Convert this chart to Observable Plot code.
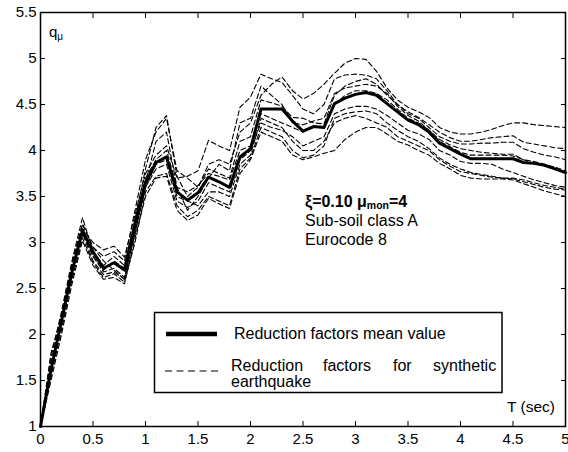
<!DOCTYPE html>
<html><head><meta charset="utf-8">
<script src="https://cdn.jsdelivr.net/npm/d3@7"></script>
<script src="https://cdn.jsdelivr.net/npm/@observablehq/plot@0.6"></script>
<style>body{margin:0;background:#fff} svg{display:block}</style>
</head><body><div id="chart"></div>
<script>
const periods = [0.0,0.1,0.2,0.3,0.4,0.5,0.6,0.7,0.8,0.9,1.0,1.1,1.2,1.3,1.4,1.5,1.6,1.7,1.8,1.9,2.0,2.1,2.2,2.3,2.4,2.5,2.6,2.7,2.8,2.9,3.0,3.1,3.2,3.3,3.4,3.5,3.6,3.7,3.8,3.9,4.0,4.1,4.2,4.3,4.4,4.5,4.6,4.7,4.8,4.9,5.0];
const meanValues = [1.00,1.62,2.15,2.68,3.13,2.90,2.72,2.78,2.70,3.20,3.65,3.87,3.93,3.55,3.46,3.54,3.71,3.66,3.60,3.93,4.02,4.45,4.45,4.45,4.32,4.21,4.26,4.25,4.51,4.57,4.61,4.63,4.60,4.51,4.42,4.33,4.28,4.20,4.08,4.02,3.96,3.91,3.91,3.91,3.91,3.91,3.87,3.86,3.84,3.80,3.76];
const eq1 = [1.00,1.70,2.20,2.75,3.20,2.95,2.85,2.90,2.80,3.35,3.90,4.20,4.35,3.78,3.70,3.60,3.85,3.90,3.85,4.20,4.30,4.60,4.72,4.80,4.65,4.56,4.62,4.72,4.84,4.95,5.00,4.99,4.86,4.68,4.55,4.47,4.42,4.36,4.25,4.20,4.18,4.18,4.20,4.23,4.27,4.30,4.30,4.28,4.27,4.26,4.25];
const eq2 = [1.00,1.60,2.15,2.70,3.15,3.00,2.92,2.96,2.84,3.30,3.75,3.95,4.05,3.70,3.72,3.78,4.11,4.05,4.00,4.47,4.58,4.83,4.78,4.74,4.60,4.45,4.40,4.50,4.78,4.82,4.83,4.82,4.78,4.65,4.50,4.42,4.36,4.28,4.20,4.14,4.10,4.10,4.12,4.14,4.15,4.16,4.09,4.07,4.05,4.03,4.02];
const eq3 = [1.00,1.75,2.25,2.80,3.27,2.90,2.75,2.85,2.75,3.25,3.80,4.25,4.38,3.72,3.50,3.60,3.80,3.75,3.70,4.10,4.15,4.55,4.52,4.48,4.36,4.35,4.30,4.29,4.60,4.70,4.75,4.78,4.72,4.60,4.50,4.40,4.35,4.25,4.15,4.10,4.07,4.07,4.08,4.08,4.09,4.09,4.02,3.98,3.95,3.93,3.90];
const eq4 = [1.00,1.65,2.15,2.72,3.15,2.85,2.70,2.80,2.72,3.20,3.70,3.90,4.00,3.60,3.55,3.62,3.75,3.72,3.68,4.00,4.05,4.40,4.35,4.30,4.25,4.20,4.25,4.27,4.50,4.60,4.65,4.65,4.62,4.55,4.45,4.35,4.30,4.22,4.10,4.04,3.98,3.95,3.95,3.95,3.95,3.94,3.90,3.88,3.85,3.82,3.78];
const eq5 = [1.00,1.60,2.10,2.65,3.10,2.85,2.68,2.72,2.62,3.10,3.60,3.80,3.85,3.45,3.38,3.45,3.65,3.60,3.55,3.90,4.00,4.30,4.25,4.22,4.15,4.05,4.10,4.15,4.40,4.45,4.48,4.48,4.45,4.38,4.30,4.22,4.18,4.12,4.00,3.95,3.88,3.86,3.86,3.85,3.80,3.76,3.72,3.68,3.65,3.62,3.60];
const eq6 = [1.00,1.55,2.05,2.60,3.05,2.78,2.62,2.66,2.57,3.00,3.55,3.72,3.75,3.40,3.28,3.35,3.50,3.45,3.40,3.80,3.92,4.25,4.20,4.15,4.00,3.92,3.95,4.05,4.35,4.40,4.42,4.43,4.40,4.30,4.22,4.15,4.10,4.02,3.92,3.85,3.80,3.76,3.74,3.72,3.70,3.69,3.66,3.63,3.60,3.58,3.57];
const eq7 = [1.00,1.50,2.00,2.55,3.02,2.75,2.60,2.62,2.55,3.05,3.50,3.70,3.72,3.35,3.24,3.30,3.48,3.42,3.37,3.75,3.90,4.20,4.15,4.10,3.95,3.90,3.93,3.97,4.00,4.12,4.20,4.25,4.25,4.18,4.10,4.06,4.00,3.95,3.86,3.80,3.73,3.70,3.69,3.69,3.69,3.68,3.64,3.60,3.56,3.53,3.50];
const eq8 = [1.00,1.80,2.20,2.78,3.20,2.95,2.80,2.70,2.60,3.15,3.65,4.10,4.20,3.60,3.35,3.50,3.70,3.85,3.78,4.30,4.35,4.70,4.60,4.50,4.30,4.28,4.32,4.35,4.62,4.68,4.70,4.72,4.70,4.62,4.48,4.38,4.32,4.22,4.12,4.06,4.02,4.00,3.98,3.97,3.96,3.96,3.90,3.86,3.84,3.80,3.77];
const eq9 = [1.00,1.65,2.10,2.68,3.10,2.80,2.65,2.68,2.60,3.10,3.60,3.85,3.90,3.50,3.45,3.40,3.55,3.55,3.50,3.85,3.95,4.35,4.30,4.25,4.10,4.00,4.00,4.10,4.30,4.35,4.38,4.35,4.30,4.25,4.15,4.10,4.05,4.00,3.90,3.83,3.77,3.75,3.73,3.71,3.70,3.70,3.68,3.65,3.62,3.60,3.58];

const xTicks = [0,0.5,1,1.5,2,2.5,3,3.5,4,4.5,5];
const xTickLabels = ["0","0.5","1","1.5","2","2.5","3","3.5","4","4.5","5"];
const yTicks = [1,1.5,2,2.5,3,3.5,4,4.5,5,5.5];
const yTickLabels = ["1","1.5","2","2.5","3","3.5","4","4.5","5","5.5"];
const legendMean = "Reduction factors mean value";
const legendSynthWords = ["Reduction","factors","for","synthetic"];
const legendSynthLine2 = "earthquake";
const xAxisLabel = "T (sec)";

const synthetic = [eq1,eq2,eq3,eq4,eq5,eq6,eq7,eq8,eq9];
const dashedRows = synthetic.flatMap((s, i) => s.map((q, j) => ({T: periods[j], q, run: i})));
const meanRows = meanValues.map((q, j) => ({T: periods[j], q}));
const xLab = new Map(xTicks.map((t, i) => [t, xTickLabels[i]]));
const yLab = new Map(yTicks.map((t, i) => [t, yTickLabels[i]]));

const FONT = "'Liberation Sans', Arial, Helvetica, sans-serif";

const plot = Plot.plot({
  width: 568, height: 452,
  marginLeft: 40, marginRight: 3, marginTop: 12, marginBottom: 26,
  style: {fontFamily: FONT, fontSize: "15px", color: "#000", background: "#fff", overflow: "visible"},
  x: {domain: [0, 5]},
  y: {domain: [1, 5.5]},
  marks: [
    Plot.line(dashedRows, {x: "T", y: "q", z: "run", stroke: "#000", strokeWidth: 1.1, strokeDasharray: "5,3"}),
    Plot.line(meanRows, {x: "T", y: "q", stroke: "#000", strokeWidth: 3}),
    Plot.axisX({anchor: "bottom", ticks: xTicks, tickSize: -5, tickPadding: 12, tickFormat: d => xLab.get(d), label: null}),
    Plot.axisX({anchor: "top", ticks: xTicks, tickSize: -5, tickFormat: () => "", label: null}),
    Plot.axisY({anchor: "left", ticks: yTicks, tickSize: -5, tickPadding: 9, tickFormat: d => yLab.get(d), label: null}),
    Plot.axisY({anchor: "right", ticks: yTicks, tickSize: -5, tickFormat: () => "", label: null}),
    Plot.frame({stroke: "#000", strokeWidth: 1.5})
  ]
});
document.getElementById("chart").appendChild(plot);

const svg = d3.select(plot);
const g = svg.append("g").attr("font-family", FONT).attr("fill", "#000").attr("text-anchor", "start");

// axis titles
const qt = g.append("text").attr("x", 49).attr("y", 37).attr("font-size", 15);
qt.append("tspan").text("q");
qt.append("tspan").attr("font-size", 10).attr("dy", 3).text("μ");
g.append("text").attr("x", 555).attr("y", 412).attr("text-anchor", "end").attr("font-size", 15.5).text(xAxisLabel);

// annotation
const a1 = g.append("text").attr("x", 305).attr("y", 207).attr("font-size", 16).attr("font-weight", "bold");
a1.append("tspan").text("ξ=0.10 μ");
a1.append("tspan").attr("font-size", 10.5).attr("dy", 2).text("mon");
a1.append("tspan").attr("dy", -2).text("=4");
g.append("text").attr("x", 305).attr("y", 226).attr("font-size", 16).text("Sub-soil class A");
g.append("text").attr("x", 305).attr("y", 245).attr("font-size", 16).text("Eurocode 8");

// legend
const lg = g.append("g");
lg.append("rect").attr("x", 154.5).attr("y", 312.5).attr("width", 347.5).attr("height", 80)
  .attr("fill", "#fff").attr("stroke", "#000").attr("stroke-width", 1.5);
lg.append("line").attr("x1", 166).attr("x2", 217).attr("y1", 334).attr("y2", 334).attr("stroke", "#000").attr("stroke-width", 4.5);
lg.append("text").attr("x", 234).attr("y", 339).attr("font-size", 16).text(legendMean);
lg.append("line").attr("x1", 165).attr("x2", 222).attr("y1", 371).attr("y2", 371).attr("stroke", "#000").attr("stroke-width", 1.2).attr("stroke-dasharray", "7,4.5");
const wordX = [231, 323, 393, 433];
legendSynthWords.forEach((w, i) => lg.append("text").attr("x", wordX[i]).attr("y", 371).attr("font-size", 16).text(w));
lg.append("text").attr("x", 231).attr("y", 387).attr("font-size", 16).text(legendSynthLine2);
</script>
</body></html>
